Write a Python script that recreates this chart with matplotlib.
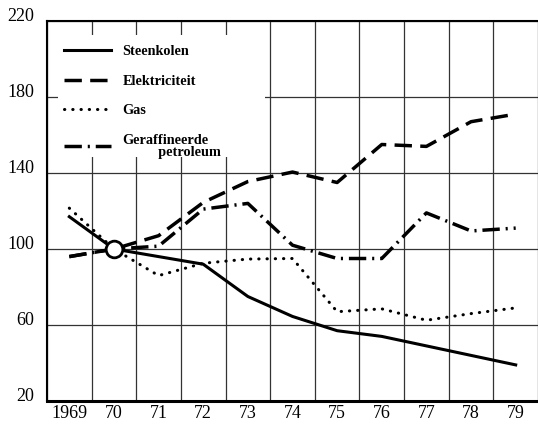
import matplotlib.pyplot as plt
import matplotlib.transforms as mtransforms
from matplotlib.patches import Rectangle
import numpy as np

# Index values (1970 = 100)
years = ["1969", "70", "71", "72", "73", "74", "75", "76", "77", "78", "79"]
steenkolen = [117, 100, 96, 92, 75, 64.5, 57, 54, 49, 44, 39]
elektriciteit = [96, 100, 107, 124.5, 135.5, 140.5, 135, 155, 154, 167, 171]
gas = [121.5, 100, 86, 92.5, 94.7, 95, 67, 68.5, 62.5, 66, 69]
petroleum = [96, 100, 101.5, 121, 124, 102, 95, 95, 119, 109.5, 111]

labels = ["Steenkolen", "Elektriciteit", "Gas", "Geraffineerde\n          petroleum"]
y_ticks = [20, 60, 100, 140, 180, 220]

plt.rcParams["font.family"] = ["Liberation Serif", "DejaVu Serif"]

fig = plt.figure(figsize=(5.38, 4.26), dpi=100)
ax = fig.add_axes([47 / 538, 25 / 426, 491 / 538, 380 / 426])

x = np.arange(len(years))
lw = 2.2
ax.plot(x, steenkolen, color="black", lw=lw, ls="-", label=labels[0], zorder=3)
ax.plot(x, elektriciteit, color="black", lw=lw + 0.3, ls=(0, (5, 2.4)),
        label=labels[1], zorder=3)
ax.plot(x, gas, color="black", lw=lw, ls=(0, (0.1, 2.6)), dash_capstyle="round",
        label=labels[2], zorder=3)
ax.plot(x, petroleum, color="black", lw=lw + 0.3, ls=(0, (5, 1.7, 0.6, 1.7)),
        label=labels[3], zorder=3)

# base year marker
ax.plot(x[1], steenkolen[1], "o", ms=12, mfc="white", mec="black", mew=2, zorder=5)

ax.set_xlim(-0.5, -0.5 + 491 / 45.4)
ax.set_ylim(20, 220)

ax.set_xticks(x, years)
ax.set_xticks(np.arange(-0.5, len(years), 1), minor=True)
ax.set_yticks(y_ticks, [str(v) for v in y_ticks])
ax.tick_params(axis="both", which="both", length=0, labelsize=13)
ax.tick_params(axis="x", pad=3)
ax.tick_params(axis="y", pad=9)
offset = mtransforms.ScaledTranslation(0, 5 / 72, fig.dpi_scale_trans)
for lab in ax.get_yticklabels():
    lab.set_transform(lab.get_transform() + offset)

ax.grid(axis="y", which="major", color="#333333", lw=0.9, zorder=1)
ax.grid(axis="x", which="minor", color="#333333", lw=0.9, zorder=1)

ax.spines["right"].set_visible(False)
ax.spines["top"].set_linewidth(1.5)
ax.spines["left"].set_linewidth(1.5)
ax.spines["bottom"].set_linewidth(2.2)

# white block behind the legend hides the grid
ax.add_patch(Rectangle((11 / 491, 1 - 136 / 380), 207 / 491, 122 / 380,
                       transform=ax.transAxes, facecolor="white",
                       edgecolor="none", zorder=2))

leg = ax.legend(loc="upper left", bbox_to_anchor=(0.008, 0.97), frameon=False,
                handlelength=3.3, handletextpad=0.8, labelspacing=1.15,
                prop={"weight": "bold", "size": 10.3})
leg.get_texts()[3].set_linespacing(0.95)
leg.set_zorder(4)

fig.savefig("out.png", dpi=100)
